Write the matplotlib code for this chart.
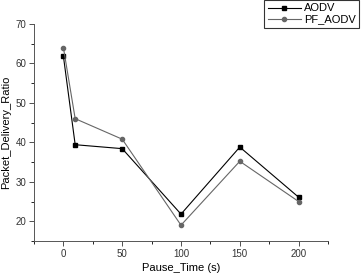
import matplotlib
matplotlib.use("Agg")
import matplotlib.pyplot as plt
from matplotlib.ticker import MultipleLocator

# pause times and delivery ratios
pause_time = [0, 10, 50, 100, 150, 200]
aodv = [61.8, 39.4, 38.4, 21.8, 38.8, 26.1]
pf_aodv = [64.0, 46.0, 40.8, 19.0, 35.2, 25.0]

plt.rcParams['font.family'] = ['Liberation Sans', 'DejaVu Sans']

fig = plt.figure(figsize=(3.62, 2.76), dpi=100)
ax = fig.add_axes([0.094, 0.127, 0.812, 0.786])

ax.plot(pause_time, aodv, color='black', lw=0.8, marker='s', ms=3, label='AODV')
ax.plot(pause_time, pf_aodv, color='#666666', lw=0.8, marker='o', ms=3, label='PF_AODV')

ax.set_xlim(-25, 225)
ax.set_ylim(15, 70)
ax.xaxis.set_major_locator(MultipleLocator(50))
ax.xaxis.set_minor_locator(MultipleLocator(25))
ax.yaxis.set_major_locator(MultipleLocator(10))
ax.yaxis.set_minor_locator(MultipleLocator(5))
ax.tick_params(which='major', direction='out', length=3.5, width=0.6, labelsize=7, pad=2, colors='#333333')
ax.tick_params(which='minor', direction='out', length=2, width=0.6)
ax.spines['top'].set_visible(False)
ax.spines['right'].set_visible(False)
for s in ('left', 'bottom'):
    ax.spines[s].set_linewidth(0.7)
    ax.spines[s].set_color('#555555')

ax.set_xlabel('Pause_Time (s)', fontsize=8, labelpad=3)
ax.set_ylabel('Packet_Delivery_Ratio', fontsize=8, labelpad=3)

leg = ax.legend(loc='upper right', bbox_to_anchor=(1.107, 1.11), fontsize=8,
                frameon=True, fancybox=False, edgecolor='black', borderpad=0.3,
                handlelength=3, labelspacing=0.1, handletextpad=0.3, borderaxespad=0)
leg.get_frame().set_linewidth(0.8)

fig.savefig('out.png', dpi=100)
